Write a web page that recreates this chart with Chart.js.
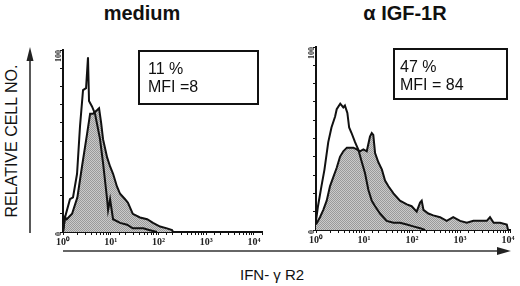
<!DOCTYPE html>
<html>
<head>
<meta charset="utf-8">
<script src="https://cdn.jsdelivr.net/npm/chart.js@4"></script>
<style>
  body { margin: 0; background: #fff; width: 520px; height: 286px; position: relative; overflow: hidden;
         font-family: Arial, "Liberation Sans", sans-serif; color: #111; }
  canvas { position: absolute; top: 0; }
  .title { position: absolute; top: 3px; width: 140px; text-align: center; font-size: 20px; line-height: 20px; font-weight: bold; white-space: nowrap; }
  .ylab { position: absolute; left: 12px; top: 141px; transform: translate(-50%, -50%) rotate(-90deg); font-size: 16px; white-space: nowrap; }
  .xlab { position: absolute; left: 240px; top: 267px; font-size: 15px; line-height: 15px; white-space: nowrap; }
  .box { position: absolute; border: 2px solid #111; box-sizing: border-box; font-size: 16px; line-height: 18px; padding-top: 8px; white-space: nowrap; }
  svg { position: absolute; left: 0; top: 0; }
</style>
</head>
<body>
<div class="title" style="left:72px">medium</div>
<div class="title" style="left:335px">α IGF-1R</div>
<div class="ylab">RELATIVE CELL NO.</div>
<div class="xlab">IFN- γ R2</div>

<canvas id="med" width="270" height="262" style="left:0"></canvas>
<canvas id="igf" width="250" height="262" style="left:270px"></canvas>

<div class="box" style="left:138px;top:50px;width:121px;height:55px;padding-left:8px">11 %<br>MFI =8</div>
<div class="box" style="left:393px;top:48px;width:115px;height:52px;padding-left:5px">47 %<br>MFI = 84</div>

<svg width="520" height="286">
  <line x1="30" y1="233" x2="30" y2="58" stroke="#222" stroke-width="1.5"/>
  <polygon points="30,47 26.5,61 33.5,61" fill="#222"/>
  <line x1="63" y1="251" x2="500" y2="251" stroke="#333" stroke-width="1.5"/>
  <polygon points="511,251 497,247 497,255" fill="#222"/>
</svg>

<script>
// fluorescence intensity (x) and relative cell number (y)
const medCtrlX  = [1.0, 1.1, 1.4, 1.62, 1.97, 2.27, 2.63, 3.04, 3.34, 3.51, 4.05, 4.69, 5.97, 6.9, 8.4, 8.8, 9.7, 11.2, 15.7, 22, 29, 48, 66, 93];
const medCtrlY  = [0, 8, 18, 19, 32, 58, 78, 79, 96, 72, 69, 65, 51, 38, 18, 12, 18, 7, 5, 4, 2, 2, 1, 0];
const medStainX = [1, 1.1, 1.2, 1.55, 2.0, 2.5, 3.2, 3.7, 4.25, 5.2, 5.7, 6.3, 6.9, 8.4, 9.7, 11.2, 13.5, 15.7, 20, 23, 29, 41, 58, 77, 108, 151, 193, 203];
const medStainY = [0, 8, 7, 10, 19, 36, 54, 65, 65, 67, 68, 60, 51, 41, 36, 32, 25, 21, 18, 16, 10, 8, 7, 5, 3, 2, 1, 0];

const igfCtrlX  = [1.0, 1.1, 1.3, 1.5, 1.8, 2.1, 2.5, 2.7, 3.2, 3.7, 4.0, 4.5, 4.9, 5.5, 6.5, 7.6, 8.8, 10.5, 12.3, 14.5, 17, 21.5, 29.6, 41, 56, 78, 106, 147, 187];
const igfCtrlY  = [5, 13, 24, 33, 48, 56, 62, 66, 69, 67, 68, 64, 56, 53, 48, 44, 38, 31, 22, 16, 13, 9, 5, 4, 4, 3, 2, 1, 0];
const igfStainX = [1.0, 1.21, 1.42, 1.67, 1.96, 2.3, 2.7, 3.16, 3.7, 4.4, 5.1, 6.0, 7.1, 8.2, 9.7, 11.4, 13.3, 14.5, 15.6, 17,
                   19.9, 23.6, 27.4, 32, 41, 56, 78, 98, 125, 147, 159, 173, 218, 277, 383, 527, 720, 1000, 1380, 1900,
                   2600, 3600, 4200, 5000, 6800, 9400, 10000];
const igfStainY = [3, 7, 11, 16, 24, 29, 34, 40, 43, 45, 45, 45, 44, 43, 44, 43, 51, 53, 52, 42,
                   37, 33, 27, 24, 20, 16, 14, 13, 10, 15, 16, 11, 9, 8, 7, 5, 7, 5, 4, 5,
                   5, 5, 7, 4, 4, 3, 0];

const xTickVals = [1, 10, 100, 1000, 10000];
const xTickText = ['10⁰', '10¹', '10²', '10³', '10⁴'];
const yTickVals = [0, 100];

function shade(ctx) {
  const c = document.createElement('canvas'); c.width = c.height = 2;
  const g = c.getContext('2d');
  g.fillStyle = '#cacaca'; g.fillRect(0, 0, 2, 2);
  g.fillStyle = '#9a9a9a'; g.fillRect(0, 0, 1, 1); g.fillRect(1, 1, 1, 1);
  return ctx.createPattern(c, 'repeat');
}

const pts = (xs, ys) => xs.map((x, i) => ({x, y: ys[i]}));

function panel(id, ctrlX, ctrlY, stainX, stainY, xMax, pad) {
  const ctx = document.getElementById(id).getContext('2d');
  const tickFont = {family: '"Liberation Serif", serif', size: 10, weight: 'bold'};
  return new Chart(ctx, {
    type: 'line',
    data: {
      datasets: [
        { data: pts(ctrlX, ctrlY), borderColor: '#111', borderWidth: 2, fill: false, pointRadius: 0, tension: 0 },
        { data: pts(stainX, stainY), borderColor: '#111', borderWidth: 2, fill: 'origin',
          backgroundColor: shade(ctx), pointRadius: 0, tension: 0 }
      ]
    },
    options: {
      responsive: false, animation: false, devicePixelRatio: 1,
      layout: { padding: pad, autoPadding: false },
      plugins: { legend: { display: false }, tooltip: { enabled: false } },
      scales: {
        x: {
          type: 'logarithmic', min: 1, max: xMax,
          afterFit: s => { s.height = 18; },
          border: { color: '#111', width: 2 },
          grid: { drawOnChartArea: false, color: '#111', tickLength: 3 },
          ticks: { autoSkip: false, maxRotation: 0, padding: 1, color: '#222', font: tickFont,
                   callback: v => { const i = xTickVals.indexOf(v); return i < 0 ? '' : xTickText[i]; } }
        },
        y: {
          min: 0, max: 100,
          afterFit: s => { s.width = 14; },
          border: { color: '#111', width: 2 },
          grid: { drawOnChartArea: false, color: '#111', tickLength: 3 },
          ticks: { stepSize: 10, autoSkip: false, minRotation: 90, maxRotation: 90, padding: 1, color: '#222',
                   font: {family: '"Liberation Serif", serif', size: 8, weight: 'bold'},
                   callback: v => yTickVals.includes(v) ? String(v) : '' }
        }
      }
    }
  });
}

panel('med', medCtrlX, medCtrlY, medStainX, medStainY, 14791, {left: 49, right: 8, top: 50, bottom: 12});
panel('igf', igfCtrlX, igfCtrlY, igfStainX, igfStainY, 10965, {left: 32, right: 10, top: 47, bottom: 14});
</script>
</body>
</html>
